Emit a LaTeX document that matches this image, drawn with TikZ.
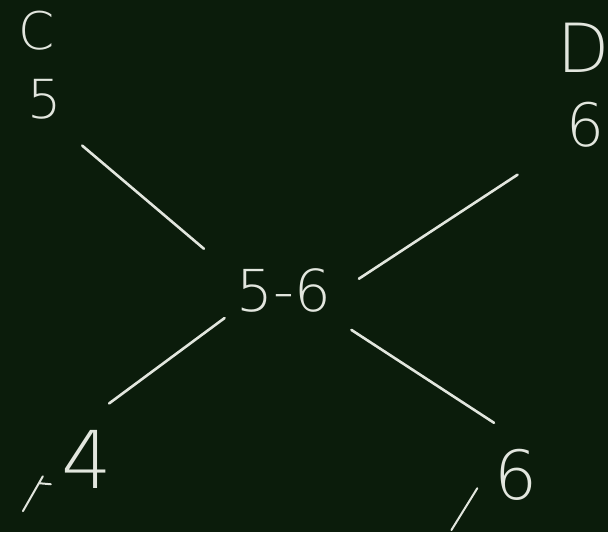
\documentclass[tikz,border=0pt]{standalone}
\usepackage{fontspec}
\newfontfamily\chalkfont{DejaVu Sans ExtraLight}
\usepackage{tikz}
\usetikzlibrary{arrows.meta}
\usepackage{xcolor}
\definecolor{board}{RGB}{11,28,11}
\definecolor{chalk}{RGB}{226,230,222}

\begin{document}
\begin{tikzpicture}[x=1pt,y=-1pt,line cap=round,
  lbl/.style={text=chalk,inner sep=0pt,font=\chalkfont},
  stroke/.style={draw=chalk,line width=2.6pt}]
\fill[board] (0,0) rectangle (610,534);
% labels
\node[lbl,font=\chalkfont\fontsize{52}{52}\selectfont] (c) at (37,31) {C};
\node[lbl,font=\chalkfont\fontsize{54}{54}\selectfont] (cval) at (45,100) {5};
\node[lbl,font=\chalkfont\fontsize{68}{68}\selectfont] (d) at (586,48) {D};
\node[lbl,font=\chalkfont\fontsize{60}{60}\selectfont] (dval) at (588,125) {6};
\node[lbl,font=\chalkfont\fontsize{58}{58}\selectfont] (mid) at (285,292) {5-6};
\node[lbl,font=\chalkfont\fontsize{80}{80}\selectfont] (lval) at (87,461) {4};
\node[lbl,font=\chalkfont\fontsize{68}{68}\selectfont] (rval) at (518,477) {6};
% connectors
\draw[stroke,shorten <=40pt,shorten >=43pt] (cval.-71) -- (mid.163);
\draw[stroke,shorten <=59pt,shorten >=33pt] (dval.223) -- (mid.-7);
\draw[stroke,shorten <=15pt,shorten >=45pt] (mid.201) -- (lval.115);
\draw[stroke,shorten <=31pt,shorten >=49pt] (mid.-28) -- (rval.54);
% small marks
\draw[stroke,line width=2pt] (23,513) -- (43,478) (40,485) -- (51,486);
\draw[stroke,line width=2pt] (453,532) -- (479,490);
\end{tikzpicture}
\end{document}
